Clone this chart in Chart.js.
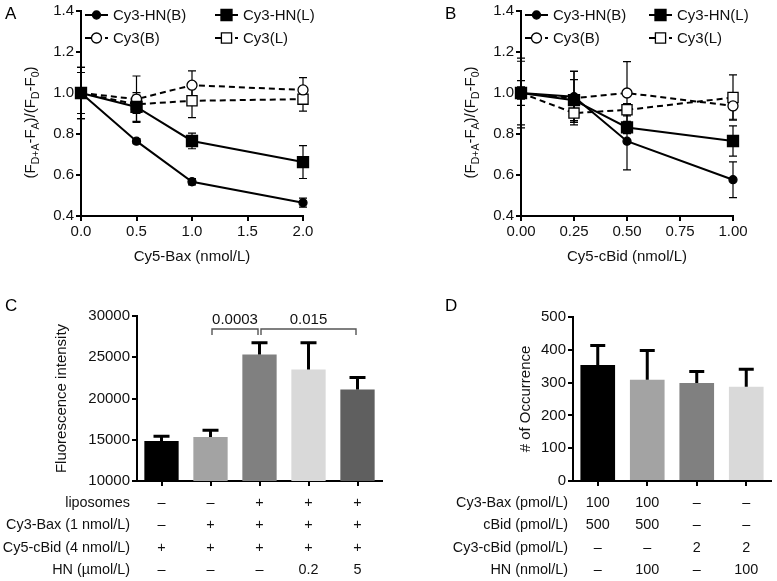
<!DOCTYPE html>
<html><head><meta charset="utf-8">
<script src="https://cdn.jsdelivr.net/npm/chart.js@4.4.0/dist/chart.umd.min.js"></script>
<style>
html,body{margin:0;padding:0;background:#fff;}
#wrap{position:relative;width:777px;height:581px;overflow:hidden;background:#fff;}
canvas{position:absolute;}
.lbl{position:absolute;font:17px "Liberation Sans",Arial,sans-serif;color:#000;line-height:20px;}
</style></head><body>
<div id="wrap">
<canvas id="cA" width="390" height="290" style="left:0;top:0;width:390px;height:290px"></canvas>
<canvas id="cB" width="387" height="290" style="left:390px;top:0;width:387px;height:290px"></canvas>
<canvas id="cC" width="390" height="291" style="left:0;top:290px;width:390px;height:291px"></canvas>
<canvas id="cD" width="387" height="291" style="left:390px;top:290px;width:387px;height:291px"></canvas>
<div class="lbl" style="left:5px;top:4px">A</div>
<div class="lbl" style="left:445px;top:4px">B</div>
<div class="lbl" style="left:5px;top:296px">C</div>
<div class="lbl" style="left:445px;top:296px">D</div>
</div>
<script>
// ---------- DATA ----------
// Panel A
const doseA = [0, 0.5, 1.0, 2.0];
const ticksAx = ['0.0', '0.5', '1.0', '1.5', '2.0'];
const ticksAxVal = [0, 0.5, 1.0, 1.5, 2.0];
const A_hnB = [1.0, 0.765, 0.567, 0.465];
const A_hnB_err = [0.10, 0.012, 0.015, 0.022];
const A_hnL = [1.0, 0.932, 0.766, 0.663];
const A_hnL_err = [0.125, 0.07, 0.038, 0.08];
const A_cy3B = [1.0, 0.970, 1.038, 1.015];
const A_cy3B_err = [0.10, 0.113, 0.07, 0.06];
const A_cy3L = [1.0, 0.945, 0.962, 0.970];
const A_cy3L_err = [0.125, 0.045, 0.082, 0.058];
// Panel B
const doseB = [0, 0.25, 0.5, 1.0];
const ticksBx = ['0.00', '0.25', '0.50', '0.75', '1.00'];
const ticksBxVal = [0, 0.25, 0.5, 0.75, 1.0];
const B_hnB = [1.0, 0.982, 0.765, 0.577];
const B_hnB_err = [0.155, 0.125, 0.14, 0.087];
const B_hnL = [1.0, 0.965, 0.832, 0.766];
const B_hnL_err = [0.06, 0.10, 0.03, 0.074];
const B_cy3B = [1.0, 0.975, 1.0, 0.937];
const B_cy3B_err = [0.17, 0.13, 0.153, 0.065];
const B_cy3L = [1.0, 0.902, 0.918, 0.978];
const B_cy3L_err = [0.03, 0.045, 0.03, 0.11];
// shared y ticks for A/B
const ticksYVal = [0.4, 0.6, 0.8, 1.0, 1.2, 1.4];
const ticksY = ['0.4', '0.6', '0.8', '1.0', '1.2', '1.4'];
const seriesNames = ['Cy3-HN(B)', 'Cy3-HN(L)', 'Cy3(B)', 'Cy3(L)'];
// Panel C
const condC = ['Cy5-cBid', '+Cy3-Bax', '+liposomes', '+HN 0.2', '+HN 5'];
const fluor = [14850, 15340, 25340, 23520, 21090];
const fluorErr = [570, 810, 1420, 3240, 1460];
const ticksCVal = [10000, 15000, 20000, 25000, 30000];
const ticksC = ['10000', '15000', '20000', '25000', '30000'];
const tableCLabels = ['liposomes', 'Cy3-Bax (1 nmol/L)', 'Cy5-cBid (4 nmol/L)', 'HN (\u00b5mol/L)'];
const tableCRows = [
  ['\u2013', '\u2013', '+', '+', '+'],
  ['\u2013', '+', '+', '+', '+'],
  ['+', '+', '+', '+', '+'],
  ['\u2013', '\u2013', '\u2013', '0.2', '5']
];
const pLabels = ['0.0003', '0.015'];
const pFrom = [1, 2];
const pTo = [2, 4];
const pTop = [28420, 28420];
const pDrop = [27700, 27700];
// Panel D
const condD = ['Bax+cBid', 'Bax+cBid+HN', 'cBid', 'cBid+HN'];
const occ = [354, 309, 299, 287];
const occErr = [59, 89, 35, 54];
const ticksDVal = [0, 100, 200, 300, 400, 500];
const ticksD = ['0', '100', '200', '300', '400', '500'];
const tableDLabels = ['Cy3-Bax (pmol/L)', 'cBid (pmol/L)', 'Cy3-cBid (pmol/L)', 'HN (nmol/L)'];
const tableDRows = [
  ['100', '100', '\u2013', '\u2013'],
  ['500', '500', '\u2013', '\u2013'],
  ['\u2013', '\u2013', '2', '2'],
  ['\u2013', '100', '\u2013', '100']
];

// ---------- STYLE ----------
const FAM = '"Liberation Sans", Arial, sans-serif';
const TXT = '#111';
const FS = 15;
const FS_TABLE = 14.4;
Chart.defaults.font.family = FAM;
Chart.defaults.font.size = FS;
Chart.defaults.color = TXT;

// ---------- PLUGINS ----------
function drawErr(chart, o) {
  const ctx = chart.ctx, ys = chart.scales.y;
  ctx.save();
  ctx.strokeStyle = '#000';
  ctx.lineWidth = o.width;
  ctx.setLineDash([]);
  chart.data.datasets.forEach((ds, di) => {
    if (!ds.errors) return;
    const meta = chart.getDatasetMeta(di);
    meta.data.forEach((el, i) => {
      const raw = ds.data[i];
      const val = (typeof raw === 'object') ? raw.y : raw;
      const e = ds.errors[i];
      if (!e) return;
      const x = el.x;
      const yt = ys.getPixelForValue(val + e);
      const yb = o.up ? ys.getPixelForValue(val) : ys.getPixelForValue(val - e);
      const h = o.cap / 2;
      ctx.beginPath();
      ctx.moveTo(x, yb); ctx.lineTo(x, yt);
      ctx.moveTo(x - h, yt); ctx.lineTo(x + h, yt);
      if (!o.up) { ctx.moveTo(x - h, yb); ctx.lineTo(x + h, yb); }
      ctx.stroke();
    });
  });
  ctx.restore();
}
const errorBars = {
  id: 'errorBars',
  beforeDatasetsDraw(chart, args, o) { if (o.before) drawErr(chart, o); },
  afterDatasetsDraw(chart, args, o) { if (!o.before) drawErr(chart, o); }
};

function drawMarker(ctx, ds, x, y) {
  ctx.save();
  ctx.setLineDash([]);
  ctx.lineWidth = ds.pointBorderWidth;
  ctx.strokeStyle = '#000';
  ctx.fillStyle = ds.pointBackgroundColor;
  const r = ds.pointRadius;
  ctx.beginPath();
  if (ds.pointStyle === 'rect') {
    const s = r * Math.SQRT1_2;
    ctx.rect(x - s, y - s, 2 * s, 2 * s);
  } else {
    ctx.arc(x, y, r, 0, Math.PI * 2);
  }
  ctx.fill();
  ctx.stroke();
  ctx.restore();
}
const lineLegend = {
  id: 'lineLegend',
  afterDraw(chart, args, o) {
    const ctx = chart.ctx, a = chart.chartArea;
    chart.data.datasets.forEach((ds, i) => {
      const row = Math.floor(i / 2), col = i % 2;
      const x0 = a.left + o.x0 + col * o.col2;
      const y = a.top + o.y0 + row * o.rowStep;
      ctx.save();
      ctx.strokeStyle = '#000';
      ctx.lineWidth = ds.borderWidth;
      ctx.setLineDash(ds.borderDash || []);
      ctx.beginPath(); ctx.moveTo(x0, y); ctx.lineTo(x0 + 23, y); ctx.stroke();
      ctx.restore();
      drawMarker(ctx, ds, x0 + 11.5, y);
      ctx.save();
      ctx.font = FS + 'px ' + FAM;
      ctx.fillStyle = TXT;
      ctx.textBaseline = 'middle';
      ctx.textAlign = 'left';
      ctx.fillText(ds.label, x0 + 28, y + 1);
      ctx.restore();
    });
  }
};

const subTitle = {
  id: 'subTitle',
  afterDraw(chart, args, o) {
    const ctx = chart.ctx, a = chart.chartArea;
    const parts = [['(F', 0], ['D+A', 1], ['-F', 0], ['A', 1], [')/(F', 0], ['D', 1], ['-F', 0], ['0', 1], [')', 0]];
    const big = '15px ' + FAM, small = '10.5px ' + FAM;
    let w = 0;
    parts.forEach(p => { ctx.font = p[1] ? small : big; w += ctx.measureText(p[0]).width; });
    ctx.save();
    ctx.translate(a.left - o.dx, (a.top + a.bottom) / 2 + o.dy);
    ctx.rotate(-Math.PI / 2);
    ctx.fillStyle = TXT;
    ctx.textBaseline = 'alphabetic';
    ctx.textAlign = 'left';
    let x = -w / 2;
    parts.forEach(p => {
      ctx.font = p[1] ? small : big;
      ctx.fillText(p[0], x, p[1] ? 8.5 : 5);
      x += ctx.measureText(p[0]).width;
    });
    ctx.restore();
  }
};

const condTable = {
  id: 'condTable',
  afterDraw(chart, args, o) {
    const ctx = chart.ctx, xs = chart.scales.x, a = chart.chartArea;
    const labels = o.which === 'C' ? tableCLabels : tableDLabels;
    const rows = o.which === 'C' ? tableCRows : tableDRows;
    ctx.save();
    ctx.font = FS_TABLE + 'px ' + FAM;
    ctx.fillStyle = TXT;
    ctx.textBaseline = 'middle';
    labels.forEach((lab, r) => {
      const y = a.bottom + o.y0 + r * o.step;
      ctx.textAlign = 'right';
      ctx.fillText(lab, a.left - o.gap, y);
      ctx.textAlign = 'center';
      rows[r].forEach((v, c) => ctx.fillText(v, xs.getPixelForValue(c), y));
    });
    ctx.restore();
  }
};

const brackets = {
  id: 'brackets',
  afterDatasetsDraw(chart) {
    const ctx = chart.ctx, xs = chart.scales.x, ys = chart.scales.y;
    ctx.save();
    ctx.strokeStyle = '#555';
    ctx.lineWidth = 1.4;
    ctx.font = FS + 'px ' + FAM;
    ctx.fillStyle = TXT;
    ctx.textAlign = 'center';
    ctx.textBaseline = 'alphabetic';
    pLabels.forEach((t, i) => {
      const x1 = xs.getPixelForValue(pFrom[i]) + 1.5;
      const x2 = xs.getPixelForValue(pTo[i]) - 1.5;
      const yt = ys.getPixelForValue(pTop[i]);
      const yd = ys.getPixelForValue(pDrop[i]);
      ctx.beginPath();
      ctx.moveTo(x1, yd); ctx.lineTo(x1, yt); ctx.lineTo(x2, yt); ctx.lineTo(x2, yd);
      ctx.stroke();
      ctx.fillText(t, (x1 + x2) / 2, yt - 5);
    });
    ctx.restore();
  }
};

// ---------- HELPERS ----------
function axisCommon() {
  return {
    grid: { display: true, drawOnChartArea: false, drawTicks: true, tickLength: 5, color: '#000', lineWidth: 2, offset: false },
    border: { display: true, color: '#000', width: 2 }
  };
}
function lineDatasets(dose, arrs, errs) {
  const styles = [
    { pointStyle: 'circle', pointRadius: 4, pointBackgroundColor: '#000', borderDash: [] },
    { pointStyle: 'rect', pointRadius: 7.8, pointBackgroundColor: '#000', borderDash: [] },
    { pointStyle: 'circle', pointRadius: 5, pointBackgroundColor: '#fff', borderDash: [6, 4] },
    { pointStyle: 'rect', pointRadius: 7.2, pointBackgroundColor: '#fff', borderDash: [6, 4] }
  ];
  return arrs.map((arr, k) => Object.assign({
    label: seriesNames[k],
    data: dose.map((x, i) => ({ x: x, y: arr[i] })),
    errors: errs[k],
    borderColor: '#000',
    borderWidth: 2,
    pointBorderColor: '#000',
    pointBorderWidth: 1.3,
    pointHoverRadius: 0,
    tension: 0,
    clip: false
  }, styles[k], { pointHoverBackgroundColor: styles[k].pointBackgroundColor }));
}
function lineChart(id, dose, arrs, errs, xVals, xLabs, xTitle, padRight, yWidth, col2) {
  const xa = axisCommon(), ya = axisCommon();
  return new Chart(document.getElementById(id), {
    type: 'line',
    data: { datasets: lineDatasets(dose, arrs, errs) },
    options: {
      responsive: false, animation: false, devicePixelRatio: 1,
      layout: { padding: { left: 0, right: padRight, top: 11, bottom: 0 } },
      plugins: {
        legend: { display: false }, tooltip: { enabled: false },
        errorBars: { before: true, up: false, width: 1.2, cap: 8 },
        lineLegend: { x0: 4, y0: 4, rowStep: 23, col2: col2 },
        subTitle: { dx: 51, dy: 9 }
      },
      scales: {
        x: Object.assign(xa, {
          type: 'linear', min: xVals[0], max: xVals[xVals.length - 1],
          afterBuildTicks: s => { s.ticks = xVals.map(v => ({ value: v })); },
          ticks: { padding: 2, color: TXT, callback: (v, i) => xLabs[i] },
          title: { display: true, text: xTitle, color: TXT, padding: { top: 0, bottom: 24 } },
          afterFit: s => { s.height = 74; }
        }),
        y: Object.assign(ya, {
          type: 'linear', min: 0.4, max: 1.4,
          afterBuildTicks: s => { s.ticks = ticksYVal.map(v => ({ value: v })); },
          ticks: { padding: 2, color: TXT, callback: (v, i) => ticksY[i] },
          afterFit: s => { s.width = yWidth; }
        })
      }
    },
    plugins: [errorBars, lineLegend, subTitle]
  });
}
function barChart(id, labels, vals, errs, colors, yMin, yMax, yVals, yLabs, yTitle, titlePad, yWidth, padRight, padTop, which, cap, extra) {
  const xa = axisCommon(), ya = axisCommon();
  return new Chart(document.getElementById(id), {
    type: 'bar',
    data: { labels: labels, datasets: [{ data: vals, errors: errs, backgroundColor: colors, borderWidth: 0, barPercentage: 0.7, categoryPercentage: 1 }] },
    options: {
      responsive: false, animation: false, devicePixelRatio: 1,
      layout: { padding: { left: 0, right: padRight, top: padTop, bottom: 0 } },
      plugins: {
        legend: { display: false }, tooltip: { enabled: false },
        errorBars: { before: false, up: true, width: 3, cap: cap },
        condTable: { which: which, y0: 22, step: 22.5, gap: which === 'C' ? 7 : 5 }
      },
      scales: {
        x: Object.assign(xa, {
          type: 'category', offset: true,
          ticks: { display: false },
          afterFit: s => { s.height = 100; }
        }),
        y: Object.assign(ya, {
          type: 'linear', min: yMin, max: yMax,
          afterBuildTicks: s => { s.ticks = yVals.map(v => ({ value: v })); },
          ticks: { padding: 2, color: TXT, callback: (v, i) => yLabs[i] },
          title: { display: true, text: yTitle, color: TXT, padding: { top: titlePad, bottom: 0 } },
          afterFit: s => { s.width = yWidth; }
        })
      }
    },
    plugins: [errorBars, condTable].concat(extra)
  });
}

// ---------- CHARTS ----------
lineChart('cA', doseA, [A_hnB, A_hnL, A_cy3B, A_cy3L], [A_hnB_err, A_hnL_err, A_cy3B_err, A_cy3L_err],
  ticksAxVal, ticksAx, 'Cy5-Bax (nmol/L)', 87, 81, 130);
lineChart('cB', doseB, [B_hnB, B_hnL, B_cy3B, B_cy3L], [B_hnB_err, B_hnL_err, B_cy3B_err, B_cy3L_err],
  ticksBxVal, ticksBx, 'Cy5-cBid (nmol/L)', 44, 131, 124);
barChart('cC', condC, fluor, fluorErr, ['#000000', '#a3a3a3', '#808080', '#d9d9d9', '#5f5f5f'],
  10000, 30000, ticksCVal, ticksC, 'Fluorescence intensity', 53, 137, 8, 26, 'C', 16, [brackets]);
barChart('cD', condD, occ, occErr, ['#000000', '#a3a3a3', '#808080', '#d9d9d9'],
  0, 500, ticksDVal, ticksD, '# of Occurrence', 127, 183, 6, 27, 'D', 15, []);
</script>
</body></html>
